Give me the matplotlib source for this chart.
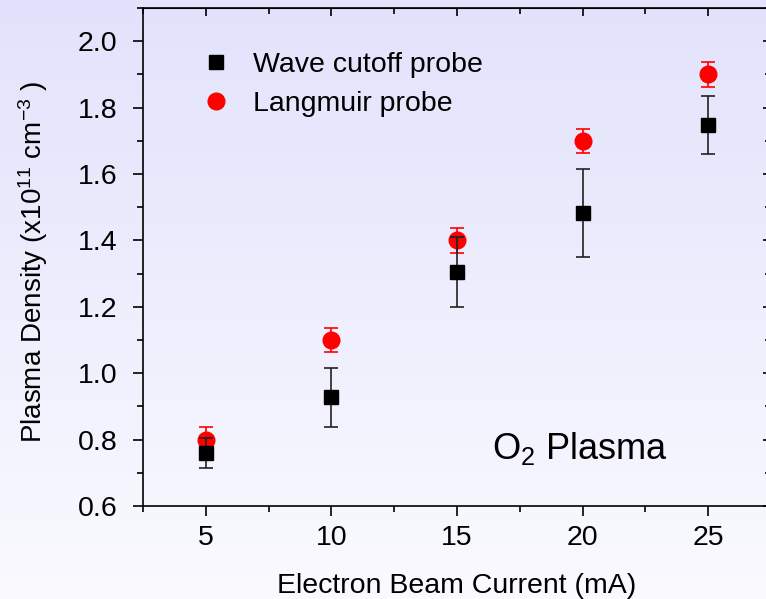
import numpy as np
import matplotlib.pyplot as plt
from matplotlib.ticker import MultipleLocator

plt.rcParams['font.family'] = ['Liberation Sans', 'DejaVu Sans']
plt.rcParams['mathtext.default'] = 'regular'

current = [5, 10, 15, 20, 25]
wave_density = [0.76, 0.927, 1.305, 1.483, 1.748]
wave_err = [0.045, 0.089, 0.105, 0.133, 0.088]
langmuir_density = [0.80, 1.10, 1.40, 1.70, 1.90]
langmuir_err = [0.037, 0.037, 0.037, 0.037, 0.037]

fig = plt.figure(figsize=(7.66, 5.99), dpi=100)

# lavender gradient behind everything
bg = fig.add_axes([0, 0, 1, 1], zorder=-10)
grad = np.linspace(0, 1, 256).reshape(-1, 1)
top = np.array([226, 226, 252]) / 255
bottom = np.array([250, 250, 255]) / 255
img = top + (bottom - top) * grad[:, :, None]
bg.imshow(img, aspect='auto', extent=[0, 1, 0, 1])
bg.axis('off')

ax = fig.add_axes([143 / 766, 1 - 506 / 599, (771 - 143) / 766, (506 - 8) / 599])
ax.patch.set_alpha(0)

ax.errorbar(current, wave_density, yerr=wave_err, fmt='none',
            ecolor='#222222', elinewidth=1.2, capsize=5, capthick=1.2, zorder=3)
ax.errorbar(current, langmuir_density, yerr=langmuir_err, fmt='none',
            ecolor='red', elinewidth=1.2, capsize=5, capthick=1.2, zorder=2)
ax.plot(current, wave_density, 's', color='black', markersize=10,
        label='Wave cutoff probe', zorder=4)
ax.plot(current, langmuir_density, 'o', color='red', markersize=12,
        label='Langmuir probe', zorder=2.5)

ax.set_xlim(2.5, 27.5)
ax.set_ylim(0.6, 2.1)
ax.xaxis.set_major_locator(MultipleLocator(5))
ax.xaxis.set_minor_locator(MultipleLocator(2.5))
ax.yaxis.set_major_locator(MultipleLocator(0.2))
ax.yaxis.set_minor_locator(MultipleLocator(0.1))
ax.yaxis.set_major_formatter(plt.FormatStrFormatter('%.1f'))

for s in ax.spines.values():
    s.set_linewidth(1.2)
ax.tick_params(which='both', direction='out', top=False, right=False,
               labelsize=20.5, width=1.2)
ax.tick_params(axis='x', pad=6)
ax.tick_params(axis='y', pad=11)
ax.tick_params(which='major', length=7.5)
ax.tick_params(which='minor', length=4.5)

# mirrored ticks on top and right, pointing inward
ax_top = ax.secondary_xaxis('top')
ax_top.xaxis.set_major_locator(MultipleLocator(5))
ax_top.xaxis.set_minor_locator(MultipleLocator(2.5))
ax_top.tick_params(which='both', direction='in', labeltop=False, width=1.2)
ax_top.tick_params(which='major', length=6)
ax_top.tick_params(which='minor', length=4)
ax_right = ax.secondary_yaxis('right')
ax_right.yaxis.set_major_locator(MultipleLocator(0.2))
ax_right.yaxis.set_minor_locator(MultipleLocator(0.1))
ax_right.tick_params(which='both', direction='in', labelright=False, width=1.2)
ax_right.tick_params(which='major', length=6)
ax_right.tick_params(which='minor', length=4)

ax.set_xlabel('Electron Beam Current (mA)', fontsize=20.5, labelpad=16)
ax.set_ylabel('Plasma Density (x10$^{11}$ cm$^{-3}$ )', fontsize=20)
ax.yaxis.set_label_coords(-0.148, 0.49)

ax.legend(loc='upper left', bbox_to_anchor=(0.049, 0.963), frameon=False,
          fontsize=20.5, handletextpad=0.7, labelspacing=0.45,
          handlelength=1.2)

ax.text(0.555, 0.095, 'O$_2$ Plasma', transform=ax.transAxes, fontsize=26)

fig.savefig('out.png', dpi=100)
